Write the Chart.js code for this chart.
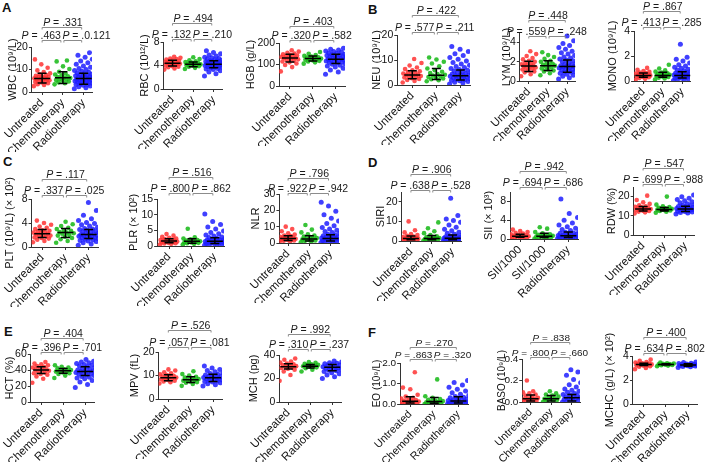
<!DOCTYPE html>
<html>
<head>
<meta charset="utf-8">
<script src="https://cdn.jsdelivr.net/npm/chart.js@4.4.0/dist/chart.umd.min.js"></script>
<style>
body { margin: 0; background: #fff; width: 709px; height: 462px; overflow: hidden; position: relative; font-family: 'Liberation Sans', Arial, sans-serif; }
canvas { position: absolute; }
.lt { position: absolute; font-weight: bold; font-size: 13px; line-height: 13px; color: #111; }
</style>
</head>
<body>
<div class="lt" style="left:2px;top:1px">A</div>
<div class="lt" style="left:368px;top:3px">B</div>
<div class="lt" style="left:3px;top:155px">C</div>
<div class="lt" style="left:368px;top:156px">D</div>
<div class="lt" style="left:4px;top:325px">E</div>
<div class="lt" style="left:368px;top:326px">F</div>
<script>
var groups = ['Untreated', 'Chemotherapy', 'Radiotherapy'];
var siiGroups = ['SII/1000', 'SII/1000', 'Radiotherapy'];

// WBC
var wbcU = [2.6,3.1,3.5,3.9,4.2,4.5,4.8,5.0,5.2,5.4,5.6,5.8,6.0,6.1,6.3,6.5,6.7,6.9,7.2,7.5,7.9,8.3,8.9,9.6,10.8,12.3,14.5];
var wbcC = [3.4,3.9,4.3,4.7,5.0,5.3,5.6,5.9,6.2,6.4,6.7,7.0,7.4,7.8,8.3,9.0,10.2,11.4,13.6,14.0];
var wbcR = [1.4,1.9,2.3,2.7,3.0,3.3,3.5,3.7,3.9,4.1,4.3,4.5,4.7,4.9,5.0,5.2,5.4,5.6,5.7,5.9,6.1,6.3,6.4,6.6,6.8,7.0,7.2,7.4,7.7,7.9,8.2,8.5,8.8,9.2,9.6,10.0,10.5,11.0,11.6,12.3,13.0,13.8,14.6,15.4,16.3,17.5];
var wbcBars = [[6,4,8.3],[6.3,3.8,9],[6,3.5,8.3]];
var wbcP = ['.331', '.463', '.0.121'];
// RBC
var rbcU = [3.3,3.5,3.7,3.8,3.9,4.0,4.1,4.2,4.3,4.3,4.4,4.4,4.5,4.6,4.6,4.7,4.8,4.9,5.0,5.1,5.2,5.3,5.5];
var rbcC = [3.4,3.6,3.8,3.9,4.0,4.1,4.1,4.2,4.2,4.3,4.3,4.4,4.5,4.6,4.7,4.9,5.1,5.4];
var rbcR = [2.2,2.6,2.9,3.1,3.3,3.4,3.5,3.6,3.7,3.8,3.8,3.9,4.0,4.0,4.1,4.1,4.2,4.2,4.3,4.3,4.4,4.4,4.5,4.5,4.6,4.6,4.7,4.8,4.8,4.9,5.0,5.1,5.2,5.3,5.4,5.6,5.8,6.0,6.2,6.5];
var rbcBars = [[4.4,3.9,4.9],[4.2,3.8,4.6],[4.2,3.6,4.8]];
var rbcP = ['.494', '.132', '.210'];
// HGB
var hgbU = [68,88,98,105,110,114,118,121,124,127,129,131,133,135,137,139,142,145,148,151,155,160,166];
var hgbC = [104,110,114,117,120,122,124,126,128,130,132,134,137,140,144,150,158];
var hgbR = [55,65,74,82,88,93,97,101,104,107,110,112,114,116,118,120,122,124,126,128,130,132,134,136,138,140,142,144,146,148,151,154,157,160,163,167,171,176];
var hgbBars = [[130,112,148],[128,116,140],[125,105,148]];
var hgbP = ['.403', '.320', '.582'];
// NEU
var neuU = [1.0,1.6,2.0,2.4,2.7,3.0,3.2,3.4,3.6,3.8,4.0,4.2,4.4,4.6,4.9,5.2,5.5,5.9,6.4,7.0,7.8,8.8,10.4];
var neuC = [1.5,1.9,2.3,2.6,2.9,3.2,3.5,3.8,4.1,4.4,4.8,5.3,5.9,6.6,7.5,8.6,9.3,10.2,11.0];
var neuR = [0.4,0.8,1.1,1.4,1.7,1.9,2.1,2.3,2.5,2.7,2.9,3.1,3.3,3.5,3.6,3.8,4.0,4.2,4.4,4.6,4.8,5.0,5.3,5.6,5.9,6.2,6.6,7.0,7.4,7.9,8.4,9.0,9.6,10.3,11.0,11.8,12.5,13.4,14.3,15.4];
var neuBars = [[4,2.5,5.7],[3.9,2.2,6.6],[3.7,2,6]];
var neuP = ['.422', '.577', '.211'];
// LYM
var lymU = [0.5,0.7,0.9,1.0,1.1,1.2,1.3,1.35,1.4,1.5,1.55,1.6,1.7,1.75,1.8,1.9,2.0,2.1,2.25,2.4,2.6,2.8,3.1];
var lymC = [0.6,0.8,1.0,1.1,1.2,1.3,1.4,1.5,1.6,1.65,1.7,1.8,1.9,2.0,2.1,2.3,2.5,2.7,3.0];
var lymR = [0.2,0.35,0.5,0.6,0.7,0.8,0.9,0.95,1.0,1.1,1.15,1.2,1.3,1.35,1.4,1.45,1.5,1.55,1.6,1.7,1.75,1.8,1.9,2.0,2.1,2.2,2.3,2.4,2.5,2.65,2.8,2.95,3.1,3.3,3.5,3.7,3.9,4.2,4.7];
var lymBars = [[1.55,1.0,2.05],[1.6,1.1,2.1],[1.5,0.9,2.2]];
var lymP = ['.448', '.559', '.248'];
// MONO
var monoU = [0.1,0.18,0.25,0.3,0.33,0.36,0.39,0.42,0.45,0.47,0.5,0.53,0.56,0.6,0.64,0.68,0.73,0.8,0.9,1.05];
var monoC = [0.12,0.2,0.27,0.32,0.36,0.4,0.44,0.47,0.5,0.53,0.57,0.62,0.68,0.75,0.85,1.0,1.3];
var monoR = [0.05,0.1,0.14,0.18,0.22,0.25,0.28,0.31,0.34,0.37,0.4,0.42,0.45,0.48,0.5,0.53,0.56,0.6,0.64,0.68,0.72,0.77,0.82,0.88,0.95,1.02,1.1,1.2,1.3,1.45,1.6,1.75,1.9,2.95];
var monoBars = [[0.45,0.3,0.65],[0.45,0.3,0.7],[0.45,0.25,0.75]];
var monoP = ['.867', '.413', '.285'];
// PLT
var pltU = [0.8,1.0,1.2,1.4,1.5,1.6,1.7,1.8,1.9,2.0,2.1,2.2,2.3,2.4,2.5,2.6,2.7,2.8,3.0,3.2,3.4,3.7,4.0,4.4];
var pltC = [0.7,1.0,1.3,1.5,1.7,1.9,2.0,2.2,2.3,2.4,2.5,2.7,2.8,3.0,3.2,3.5,3.8,4.2];
var pltR = [0.3,0.5,0.7,0.9,1.0,1.1,1.2,1.3,1.4,1.5,1.55,1.6,1.7,1.8,1.85,1.9,2.0,2.05,2.1,2.2,2.3,2.4,2.5,2.6,2.7,2.8,2.9,3.0,3.1,3.3,3.5,3.7,3.9,4.1,4.4,4.7,5.3,6.1,7.4];
var pltBars = [[2.2,1.6,2.9],[2.4,1.6,3.1],[2.1,1.4,2.9]];
var pltP = ['.117', '.337', '.025'];
// PLR
var plrU = [0.5,0.7,0.8,0.9,1.0,1.1,1.2,1.3,1.4,1.5,1.6,1.7,1.8,1.9,2.0,2.2,2.4,2.6,2.9,3.3,3.8];
var plrC = [0.5,0.7,0.9,1.0,1.1,1.2,1.3,1.4,1.5,1.6,1.7,1.9,2.1,2.4,2.8,5.5];
var plrR = [0.2,0.4,0.5,0.6,0.7,0.8,0.9,1.0,1.05,1.1,1.2,1.3,1.35,1.4,1.5,1.6,1.7,1.8,1.9,2.0,2.1,2.3,2.5,2.7,2.9,3.2,3.5,3.9,4.3,4.8,5.4,6.1,6.9,7.8,10.2];
var plrBars = [[1.6,1.0,2.3],[1.5,0.9,2.3],[1.5,0.8,2.6]];
var plrP = ['.516', '.800', '.862'];
// NLR
var nlrU = [0.8,1.1,1.4,1.6,1.8,2.0,2.2,2.4,2.6,2.8,3.0,3.2,3.5,3.8,4.2,4.6,5.2,6.0,7.2,8.5,10.0];
var nlrC = [0.5,0.9,1.3,1.6,1.9,2.2,2.5,2.8,3.1,3.5,4.0,4.6,5.4,6.5,8.2,11.0];
var nlrR = [0.3,0.6,0.9,1.1,1.3,1.5,1.7,1.9,2.1,2.3,2.5,2.7,2.9,3.1,3.3,3.6,3.9,4.2,4.5,4.9,5.3,5.8,6.4,7.0,7.8,8.6,9.5,10.6,12.0,13.5,15.2,17.3,19.5,22.6,25.0];
var nlrBars = [[2.7,1.5,4.5],[2.5,1.3,4.5],[2.7,1.3,5]];
var nlrP = ['.796', '.922', '.942'];
// SIRI
var siriU = [0.2,0.4,0.6,0.7,0.8,0.9,1.0,1.1,1.2,1.3,1.4,1.6,1.8,2.0,2.3,2.6,3.0,3.6,4.4,5.5,10.0];
var siriC = [0.2,0.4,0.5,0.7,0.9,1.0,1.2,1.3,1.5,1.7,2.0,2.4,3.0,4.0,5.0,6.5,9.5];
var siriR = [0.1,0.2,0.3,0.4,0.5,0.6,0.7,0.8,0.9,1.0,1.1,1.2,1.3,1.4,1.5,1.6,1.8,2.0,2.2,2.4,2.7,3.0,3.4,3.9,4.5,5.2,6.0,7.0,8.2,9.6,10.5,11.2,13.0,21.8];
var siriBars = [[1.3,0.7,2.6],[1.3,0.6,2.8],[1.4,0.6,3]];
var siriP = ['.906', '.638', '.528'];
// SII
var siiU = [0.1,0.2,0.3,0.35,0.4,0.45,0.5,0.55,0.6,0.65,0.7,0.8,0.9,1.0,1.15,1.3,1.5,1.7,2.0];
var siiC = [0.1,0.2,0.3,0.4,0.45,0.5,0.55,0.6,0.7,0.8,0.9,1.0,1.2,1.5,2.2,2.5];
var siiR = [0.05,0.1,0.2,0.25,0.3,0.35,0.4,0.45,0.5,0.55,0.6,0.65,0.7,0.75,0.8,0.9,1.0,1.1,1.2,1.3,1.45,1.6,1.8,2.0,2.3,2.6,3.0,3.4,4.0,4.6,5.4,8.5];
var siiBars = [[0.6,0.35,1.0],[0.6,0.3,1.2],[0.7,0.3,1.5]];
var siiP = ['.942', '.694', '.686'];
// RDW
var rdwU = [11.2,11.8,12.2,12.5,12.7,12.9,13.1,13.3,13.5,13.7,13.9,14.1,14.4,14.7,15.0,15.5,16.2,17.0,18.2,20.5];
var rdwC = [11.6,12.1,12.5,12.8,13.0,13.2,13.3,13.5,13.7,13.9,14.2,14.5,15.0,15.8,20.0];
var rdwR = [11.0,11.4,11.7,12.0,12.2,12.4,12.6,12.8,13.0,13.1,13.3,13.4,13.6,13.8,14.0,14.2,14.4,14.6,14.9,15.2,15.5,15.9,16.3,16.8,17.3,17.9,18.5,19.2,19.9,20.8];
var rdwBars = [[13.5,12.5,14.8],[13.3,12.5,14.3],[13.5,12.3,15]];
var rdwP = ['.547', '.699', '.988'];
// HCT
var hctU = [24,29,32,34,35,36,37,38,39,40,40.5,41,42,43,44,45,46,47,48,50];
var hctC = [30,33,35,36,37,38,38.5,39,40,41,42,43,44,46];
var hctR = [18,22,25,27,29,30,31,32,33,34,35,35.5,36,37,37.5,38,39,39.5,40,41,42,43,44,45,46,47,48,49,50,51,53];
var hctBars = [[40,35.5,44],[39,36,42],[38,33,44]];
var hctP = ['.404', '.396', '.701'];
// MPV
var mpvU = [6.6,7.1,7.5,7.8,8.1,8.4,8.7,8.9,9.1,9.3,9.6,9.9,10.2,10.5,10.9,11.4,12.1,12.6];
var mpvC = [5.6,6.4,6.9,7.2,7.5,7.8,8.0,8.2,8.5,8.8,9.1,9.5,10.0,10.6,11.8];
var mpvR = [5.5,6.1,6.5,6.9,7.2,7.5,7.7,7.9,8.1,8.3,8.5,8.7,8.9,9.1,9.3,9.5,9.7,9.9,10.2,10.5,10.8,11.2,11.6,12.1,12.6,13.2,14.0];
var mpvBars = [[9,7.8,10.3],[8.2,7,9.5],[9,7.5,10.5]];
var mpvP = ['.526', '.057', '.081'];
// MCH
var mchU = [18,23,26,27.5,28.3,29,29.5,30,30.5,31,31.5,32,32.8,33.5,34.5,36,37];
var mchC = [26,27.5,28.8,29.5,30,30.4,30.8,31.2,31.6,32,32.6,33.3,34];
var mchR = [20,21.5,23,24,25,26,26.5,27,27.5,28,28.5,29,29.5,30,30.5,31,31.5,32,32.5,33,33.5,34,35];
var mchBars = [[30,28,32.5],[30.5,29,32],[29.5,26.5,32]];
var mchP = ['.992', '.310', '.237'];
// EO
var eoU = [0,0.01,0.02,0.03,0.05,0.06,0.08,0.1,0.12,0.14,0.16,0.19,0.22,0.26,0.3,0.36,0.45,0.72,0.8,1.55];
var eoC = [0,0.01,0.02,0.04,0.06,0.08,0.1,0.12,0.14,0.17,0.2,0.24,0.3,0.38,1.2];
var eoR = [0,0.01,0.02,0.03,0.04,0.05,0.06,0.08,0.09,0.1,0.12,0.13,0.15,0.17,0.19,0.21,0.24,0.27,0.3,0.33,0.37,0.42,0.48,0.55,0.63,0.72,0.82,0.93,1.05,1.15];
var eoBars = [[0.13,0.05,0.35],[0.12,0.04,0.32],[0.15,0.05,0.35]];
var eoP = ['.270', '.863', '.320'];
// BASO
var basoU = [0,0.005,0.01,0.015,0.02,0.025,0.03,0.035,0.04,0.05,0.06,0.07,0.08,0.09,0.1,0.2];
var basoC = [0,0.005,0.01,0.02,0.025,0.03,0.035,0.04,0.05,0.06,0.07,0.08,0.1];
var basoR = [0,0.005,0.01,0.015,0.02,0.025,0.03,0.035,0.04,0.045,0.05,0.06,0.065,0.07,0.08,0.09,0.1,0.11,0.12,0.14,0.16,0.18,0.21,0.25,0.28,0.3];
var basoBars = [[0.03,0.01,0.065],[0.03,0.01,0.06],[0.04,0.01,0.07]];
var basoP = ['.838', '.800', '.660'];
// MCHC
var mchcU = [2.9,3.0,3.1,3.15,3.2,3.22,3.25,3.28,3.3,3.32,3.35,3.38,3.4,3.45,3.5,3.6,3.7];
var mchcC = [3.15,3.2,3.23,3.26,3.28,3.3,3.32,3.34,3.37,3.4,3.45];
var mchcR = [3.05,3.1,3.13,3.16,3.18,3.2,3.22,3.24,3.26,3.28,3.3,3.32,3.34,3.37,3.4,3.45,3.5];
var mchcBars = [[3.3,3.2,3.4],[3.3,3.25,3.35],[3.25,3.15,3.35]];
var mchcP = ['.400', '.634', '.802'];

var panels = [
    {title: 'WBC (10⁹/L)', max: 20, step: 5, dec: 0, vals: [wbcU, wbcC, wbcR], bars: wbcBars, p: wbcP},
    {title: 'RBC (10¹²/L)', max: 8, step: 2, dec: 0, vals: [rbcU, rbcC, rbcR], bars: rbcBars, p: rbcP},
    {title: 'HGB (g/L)', max: 200, step: 50, dec: 0, vals: [hgbU, hgbC, hgbR], bars: hgbBars, p: hgbP},
    {title: 'NEU (10⁹/L)', max: 20, step: 5, dec: 0, vals: [neuU, neuC, neuR], bars: neuBars, p: neuP},
    {title: 'LYM (10⁹/L)', max: 5, step: 1, dec: 0, vals: [lymU, lymC, lymR], bars: lymBars, p: lymP},
    {title: 'MONO (10⁹/L)', max: 4, step: 1, dec: 0, vals: [monoU, monoC, monoR], bars: monoBars, p: monoP},
    {title: 'PLT (10⁹/L) (× 10²)', max: 8, step: 2, dec: 0, vals: [pltU, pltC, pltR], bars: pltBars, p: pltP},
    {title: 'PLR (× 10²)', max: 15, step: 5, dec: 0, vals: [plrU, plrC, plrR], bars: plrBars, p: plrP},
    {title: 'NLR', max: 30, step: 10, dec: 0, vals: [nlrU, nlrC, nlrR], bars: nlrBars, p: nlrP},
    {title: 'SIRI', max: 25, step: 5, dec: 0, vals: [siriU, siriC, siriR], bars: siriBars, p: siriP},
    {title: 'SII (× 10³)', max: 10, step: 2, dec: 0, vals: [siiU, siiC, siiR], bars: siiBars, p: siiP, labels: siiGroups},
    {title: 'RDW (%)', max: 25, step: 5, dec: 0, vals: [rdwU, rdwC, rdwR], bars: rdwBars, p: rdwP},
    {title: 'HCT (%)', max: 60, step: 20, dec: 0, vals: [hctU, hctC, hctR], bars: hctBars, p: hctP},
    {title: 'MPV (fL)', max: 20, step: 5, dec: 0, vals: [mpvU, mpvC, mpvR], bars: mpvBars, p: mpvP},
    {title: 'MCH (pg)', max: 40, step: 10, dec: 0, vals: [mchU, mchC, mchR], bars: mchBars, p: mchP},
    {title: 'EO (10⁹/L)', max: 2, step: 0.5, dec: 1, vals: [eoU, eoC, eoR], bars: eoBars, p: eoP, small: true},
    {title: 'BASO (10⁹/L)', max: 0.4, step: 0.1, dec: 1, vals: [basoU, basoC, basoR], bars: basoBars, p: basoP, small: true},
    {title: 'MCHC (g/L) (× 10²)', max: 4, step: 1, dec: 0, vals: [mchcU, mchcC, mchcR], bars: mchcBars, p: mchcP}
];

// placement on the page: axis x, first group x, group spacing, plot top, plot bottom, y title centre, upper bracket y, lower bracket y
var layout = [
    [27, 38, 22.5, 47, 92, 7, 27, 40],
    [157, 167, 23, 42, 89, 138, 23, 39],
    [279, 290, 23, 43, 86, 250, 26, 40],
    [397, 412, 24, 35, 85, 376, 15, 32],
    [508, 519, 23.5, 33, 81, 495, 20, 36],
    [630, 640, 21, 31, 81, 608, 11, 27],
    [29, 40, 24, 199, 247, 7, 179, 195],
    [157, 169, 23, 199, 246, 133, 177, 193],
    [277, 286, 22, 194, 243, 253, 178, 193],
    [397, 407, 22.5, 192, 241, 376, 174, 190],
    [510, 520, 24, 192, 239, 488, 171, 187],
    [630, 640, 22.5, 187, 235, 608, 168, 184],
    [27, 38, 23.5, 354, 402, 6, 338, 352],
    [157, 167, 23, 352, 399, 133, 330, 347],
    [279, 288, 22, 355, 402, 253, 334, 349],
    [400, 410, 24, 363, 404, 377, 347, 359],
    [518, 527, 22, 359, 402, 498, 342, 357],
    [632, 643, 22.5, 356, 404, 608, 337, 353]
];

var colors = ['rgba(255,50,50,0.85)', 'rgba(20,185,20,0.85)', 'rgba(30,30,255,0.85)'];
var FONT = "'Liberation Sans', Arial, sans-serif";
var XH = 60;
var EXTRA = 40;

function spread(vals, g, w) {
    return vals.map(function(v, i) {
        return {x: g + (((i * 0.618034) % 1) - 0.5) * w, y: v};
    });
}

function pText(c, val, x, y, align, size) {
    c.font = 'italic ' + size + 'px ' + FONT;
    var w1 = c.measureText('P').width;
    c.font = size + 'px ' + FONT;
    var rest = ' = ' + val;
    var w2 = c.measureText(rest).width;
    var x0 = align === 'center' ? x - (w1 + w2) / 2 : (align === 'right' ? x - w1 - w2 : x);
    c.textAlign = 'left';
    c.textBaseline = 'alphabetic';
    c.fillStyle = '#1a1a1a';
    c.font = 'italic ' + size + 'px ' + FONT;
    c.fillText('P', x0, y);
    c.font = size + 'px ' + FONT;
    c.fillText(rest, x0 + w1, y);
}

panels.forEach(function(P, k) {
    var L = layout[k];
    var fs = P.small ? 0.95 : 1;
    var left = L[5] - 6, top = L[6] - 14;
    var xmin = -(L[1] - L[0]) / L[2];
    var right = L[1] + 2.4 * L[2];
    var cv = document.createElement('canvas');
    var plotW = Math.round(right - left);
    cv.width = plotW + EXTRA;
    cv.height = L[4] + XH - top;
    cv.style.left = left + 'px';
    cv.style.top = top + 'px';
    document.body.appendChild(cv);
    var labels = P.labels || groups;

    var barPlugin = {
        id: 'bars' + k,
        afterDatasetsDraw: function(chart) {
            var c = chart.ctx, xs = chart.scales.x, ys = chart.scales.y;
            c.save();
            c.strokeStyle = '#000';
            c.lineWidth = 1.5;
            P.bars.forEach(function(b, i) {
                var x = xs.getPixelForValue(i);
                var m = ys.getPixelForValue(b[0]), lo = ys.getPixelForValue(b[1]), hi = ys.getPixelForValue(b[2]);
                c.beginPath();
                c.moveTo(x - 8, m); c.lineTo(x + 8, m);
                c.moveTo(x, lo); c.lineTo(x, hi);
                c.moveTo(x - 4.5, lo); c.lineTo(x + 4.5, lo);
                c.moveTo(x - 4.5, hi); c.lineTo(x + 4.5, hi);
                c.stroke();
            });
            c.restore();
        }
    };

    var sigPlugin = {
        id: 'sig' + k,
        afterDraw: function(chart) {
            var c = chart.ctx, xs = chart.scales.x;
            var g = [0, 1, 2].map(function(v) { return xs.getPixelForValue(v); });
            var uy = L[6] - top + 0.5, wy = L[7] - top + 0.5;
            var size = 10.5 * fs;
            c.save();
            c.strokeStyle = '#8c8c8c';
            c.lineWidth = 1;
            function bracket(x1, x2, y) {
                c.beginPath();
                c.moveTo(x1, y + 2); c.lineTo(x1, y); c.lineTo(x2, y); c.lineTo(x2, y + 2);
                c.stroke();
            }
            bracket(g[0], g[2] - 2, uy);
            bracket(g[0], g[1] - 2, wy);
            bracket(g[1] + 1, g[2] - 2, wy);
            pText(c, P.p[0], (g[0] + g[2]) / 2, uy - 1.5, 'center', size);
            pText(c, P.p[1], g[1] - 2, wy - 1.5, 'right', size);
            pText(c, P.p[2], g[1] - 0.5, wy - 1.5, 'left', size);
            c.restore();
        }
    };

    new Chart(cv, {
        type: 'scatter',
        data: {
            datasets: [0, 1, 2].map(function(i) {
                return {
                    data: spread(P.vals[i], i, i === 2 ? 0.9 : 0.8),
                    backgroundColor: colors[i],
                    borderWidth: 0,
                    pointRadius: i === 2 ? 2.5 : 2.3,
                    pointHoverRadius: 0
                };
            })
        },
        options: {
            responsive: false,
            animation: false,
            events: [],
            layout: {padding: {top: L[3] - top, right: EXTRA, left: 0, bottom: 0}},
            plugins: {legend: {display: false}, tooltip: {enabled: false}},
            scales: {
                x: {
                    type: 'linear', min: xmin, max: 2.4,
                    afterBuildTicks: function(s) { s.ticks = [{value: 0}, {value: 1}, {value: 2}]; },
                    afterFit: function(s) { s.height = XH; },
                    grid: {drawOnChartArea: false, tickLength: 3, color: '#333'},
                    border: {color: '#333', width: 1},
                    ticks: {
                        autoSkip: false, minRotation: 45, maxRotation: 45, padding: 1,
                        color: '#111', font: {family: FONT, size: 11.5 * fs},
                        callback: function(v) { return labels[v]; }
                    }
                },
                y: {
                    min: 0, max: P.max,
                    afterFit: function(s) { s.width = L[0] - left; },
                    grid: {drawOnChartArea: false, tickLength: 3, color: '#333'},
                    border: {color: '#333', width: 1},
                    ticks: {
                        stepSize: P.step, padding: 1, color: '#111', font: {family: FONT, size: 10.5 * fs},
                        callback: function(v) { return v.toFixed(P.dec); }
                    },
                    title: {display: true, text: P.title, padding: 0, color: '#111', font: {family: FONT, size: P.small ? 10 : 11}}
                }
            }
        },
        plugins: [barPlugin, sigPlugin]
    });
});
</script>
</body>
</html>
